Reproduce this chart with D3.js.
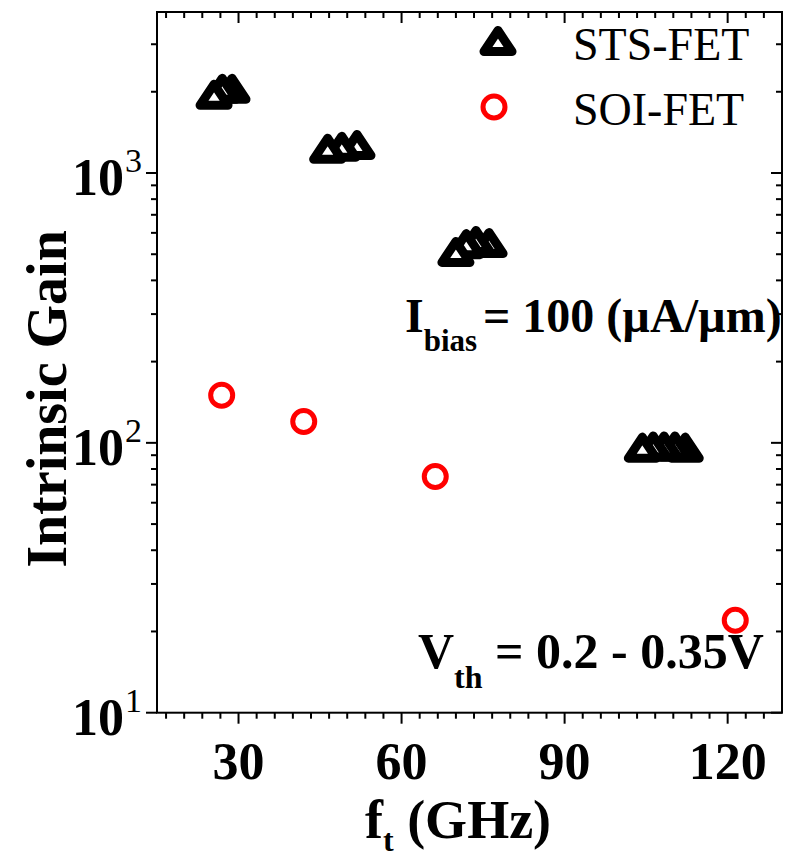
<!DOCTYPE html>
<html><head><meta charset="utf-8">
<script src="https://cdn.jsdelivr.net/npm/d3@7"></script>
<style>body{margin:0;background:#fff}svg{display:block}text{font-family:"Liberation Serif","Times New Roman",serif}</style>
</head><body>
<script>
// STS-FET points (ft in GHz, intrinsic gain)
const stsFt   = [25.5, 27.0, 28.8, 46.4, 49.0, 51.8, 70.0, 71.9, 73.7, 76.1, 104.3, 106.3, 108.3, 110.3, 112.2];
const stsGain = [1950, 2050, 2050, 1230, 1250, 1270, 510, 545, 560, 550, 96, 97, 97, 97, 96];
// SOI-FET points
const soiFt   = [26.9, 42.0, 66.2, 121.4];
const soiGain = [150, 120, 75, 22];
const xTicks = [30, 60, 90, 120];
const yTicks = [10, 100, 1000];
const yExp = ["1", "2", "3"];
const seriesNames = ["STS-FET", "SOI-FET"];

const W = 792, H = 859;
const L = 157, R = 782, T = 12, B = 712.7;
const svg = d3.select("body").append("svg").attr("width", W).attr("height", H);
const x = d3.scaleLinear().domain([15, 130]).range([L, R]);
const y = d3.scaleLog().domain([10, 3950]).range([B, T]);

// frame
svg.append("rect").attr("x", L).attr("y", T).attr("width", R - L).attr("height", B - T)
  .attr("fill", "none").attr("stroke", "#000").attr("stroke-width", 2);

// x ticks
const xMinor = d3.range(0, 35).map(i => 15 + 5/3 + i * 10/3).filter(v => v > 15.1 && v < 129.9 && !xTicks.some(t => Math.abs(t - v) < 0.01));
const g = svg.append("g").attr("stroke", "#000").attr("stroke-width", 2);
xTicks.forEach(v => {
  g.append("line").attr("x1", x(v)).attr("x2", x(v)).attr("y1", B).attr("y2", B + 11);
  g.append("line").attr("x1", x(v)).attr("x2", x(v)).attr("y1", T).attr("y2", T + 11);
});
xMinor.forEach(v => {
  g.append("line").attr("x1", x(v)).attr("x2", x(v)).attr("y1", B).attr("y2", B + 6);
  g.append("line").attr("x1", x(v)).attr("x2", x(v)).attr("y1", T).attr("y2", T + 6);
});
// y ticks
const yMinor = [];
[10, 100, 1000].forEach(d => { for (let k = 2; k <= 9; k++) if (d * k <= 3950) yMinor.push(d * k); });
yTicks.forEach(v => {
  g.append("line").attr("x1", L - 11).attr("x2", L).attr("y1", y(v)).attr("y2", y(v));
  g.append("line").attr("x1", R - 11).attr("x2", R).attr("y1", y(v)).attr("y2", y(v));
});
yMinor.forEach(v => {
  g.append("line").attr("x1", L - 6).attr("x2", L).attr("y1", y(v)).attr("y2", y(v));
  g.append("line").attr("x1", R - 6).attr("x2", R).attr("y1", y(v)).attr("y2", y(v));
});

// tick labels
xTicks.forEach(v => {
  svg.append("text").attr("x", x(v)).attr("y", B + 66).attr("text-anchor", "middle")
    .attr("font-size", 52).attr("font-weight", "bold").text(v);
});
yTicks.forEach((v, i) => {
  svg.append("text").attr("x", 124).attr("y", y(v) + 22).attr("text-anchor", "end")
    .attr("font-size", 52).attr("font-weight", "bold").text("10");
  svg.append("text").attr("x", 125).attr("y", y(v) - 1).attr("font-size", 34).text(yExp[i]);
});

// axis titles
svg.append("text").attr("transform", "translate(66,399) rotate(-90)").attr("text-anchor", "middle")
  .attr("font-size", 56).attr("font-weight", "bold").text("Intrinsic Gain");
const xt = svg.append("text").attr("x", 365).attr("y", 838).attr("font-size", 54).attr("font-weight", "bold");
xt.append("tspan").text("f");
xt.append("tspan").attr("font-size", 32).attr("dy", 13).text("t");
xt.append("tspan").attr("dy", -13).text(" (GHz)");

// markers
const triPath = "M0,-10.5L14,10.5L-14,10.5Z";
const stsData = stsFt.map((f, i) => ({f, gn: stsGain[i]})).reverse();
svg.append("g").selectAll("path").data(stsData).join("path")
  .attr("d", triPath)
  .attr("transform", d => `translate(${x(d.f)},${y(d.gn)})`)
  .attr("fill", "#fff").attr("stroke", "#000").attr("stroke-width", 9).attr("stroke-linejoin", "round");
svg.append("g").selectAll("circle").data(soiFt.map((f, i) => ({f, gn: soiGain[i]}))).join("circle")
  .attr("cx", d => x(d.f)).attr("cy", d => y(d.gn)).attr("r", 11)
  .attr("fill", "none").attr("stroke", "#ff0000").attr("stroke-width", 5);

// legend
svg.append("path").attr("d", triPath).attr("transform", "translate(498,41)")
  .attr("fill", "#fff").attr("stroke", "#000").attr("stroke-width", 9).attr("stroke-linejoin", "round");
svg.append("text").attr("x", 573).attr("y", 60).attr("font-size", 46).text(seriesNames[0]);
svg.append("circle").attr("cx", 494).attr("cy", 107).attr("r", 11)
  .attr("fill", "none").attr("stroke", "#ff0000").attr("stroke-width", 5);
svg.append("text").attr("x", 573).attr("y", 125).attr("font-size", 46).text(seriesNames[1]);

// annotations
const a1 = svg.append("text").attr("x", 405).attr("y", 332).attr("font-size", 48).attr("font-weight", "bold");
a1.append("tspan").text("I");
a1.append("tspan").attr("font-size", 31).attr("dy", 19).text("bias");
a1.append("tspan").attr("x", 483).attr("dy", -19).text("= 100 (\u00b5A/\u00b5m)");
const a2 = svg.append("text").attr("x", 418).attr("y", 668).attr("font-size", 50).attr("font-weight", "bold");
a2.append("tspan").text("V");
a2.append("tspan").attr("font-size", 32).attr("dy", 20).text("th");
a2.append("tspan").attr("dy", -20).text(" = 0.2 - 0.35V");
</script>
</body></html>
